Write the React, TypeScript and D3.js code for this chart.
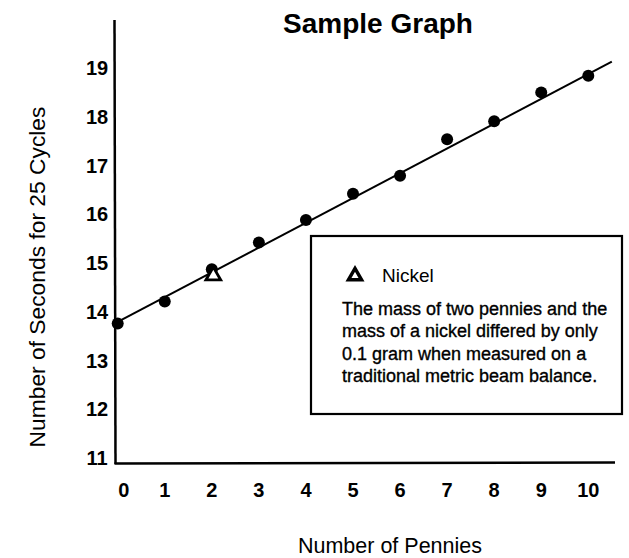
import React from 'react';
import * as d3 from 'd3';

// number of pennies on the pendulum vs time for 25 swings
const pennies = [0, 1, 2, 3, 4, 5, 6, 7, 8, 9, 10];
const seconds = [13.76, 14.21, 14.87, 15.42, 15.88, 16.42, 16.79, 17.54, 17.91, 18.5, 18.84];

// the nickel, plotted at two pennies
const nickelX = [2];
const nickelY = [14.74];

// hand-drawn best fit line
const fitX = [0, 10.5];
const fitY = [13.79, 19.13];

const xTicks = [0, 1, 2, 3, 4, 5, 6, 7, 8, 9, 10];
const yTicks = [11, 12, 13, 14, 15, 16, 17, 18, 19];

const noteLines = [
  'The mass of two pennies and the',
  'mass of a nickel differed by only',
  '0.1 gram when measured on a',
  'traditional metric beam balance.',
];

const font = '"Liberation Sans", Arial, Helvetica, sans-serif';

const App = () => {
  const width = 629;
  const height = 558;

  const x = d3.scaleLinear().domain([0, 10]).range([117.7, 588.3]);
  const y = d3.scaleLinear().domain([11, 19]).range([458, 68]);

  const fitLine = d3.line<number>()
    .x((d) => x(d))
    .y((_, i) => y(fitY[i]));

  const triangle = d3.symbol().type(d3.symbolTriangle).size(95)();
  const legendTriangle = d3.symbol().type(d3.symbolTriangle).size(75)();

  return (
    <svg
      width={width}
      height={height}
      style={{ position: 'absolute', left: 0, top: 0, background: '#fff' }}
      fontFamily={font}
    >
      <rect x={0} y={0} width={width} height={height} fill="#fff" />

      <text x={378} y={33} textAnchor="middle" fontSize={28} fontWeight="bold">
        Sample Graph
      </text>

      {/* axes */}
      <line x1={114.5} y1={20} x2={115.5} y2={464} stroke="#000" strokeWidth={2.5} />
      <line x1={114.5} y1={463.5} x2={615} y2={462.5} stroke="#000" strokeWidth={2.5} />

      {yTicks.map((t) => (
        <text key={t} x={97} y={y(t)} dy="0.35em" textAnchor="middle" fontSize={20} fontWeight="bold">
          {t}
        </text>
      ))}
      {xTicks.map((t, i) => (
        <text key={t} x={x(t) + (i === 0 ? 6 : 0)} y={497} textAnchor="middle" fontSize={20} fontWeight="bold">
          {t}
        </text>
      ))}

      <text
        transform="translate(45, 277) rotate(-90)"
        textAnchor="middle"
        fontSize={22.8}
      >
        Number of Seconds for 25 Cycles
      </text>
      <text x={390} y={553} textAnchor="middle" fontSize={21.5}>
        Number of Pennies
      </text>

      {/* fit line */}
      <path d={fitLine(fitX) || ''} fill="none" stroke="#000" strokeWidth={2} />

      {/* penny points */}
      {pennies.map((p, i) => (
        <circle key={p} cx={x(p)} cy={y(seconds[i])} r={6} fill="#000" />
      ))}

      {/* nickel */}
      {nickelX.map((n, i) => (
        <path
          key={n}
          d={triangle || ''}
          transform={`translate(${x(n) + 1.5}, ${y(nickelY[i])})`}
          fill="#fff"
          stroke="#000"
          strokeWidth={2.8}
        />
      ))}

      {/* legend / note box */}
      <rect x={311} y={236} width={311} height={178} fill="#fff" stroke="#000" strokeWidth={2.2} />
      <path d={legendTriangle || ''} transform="translate(355, 276)" fill="#fff" stroke="#000" strokeWidth={3.4} />
      <text x={382} y={282} fontSize={19}>
        Nickel
      </text>
      {noteLines.map((l, i) => (
        <text key={i} x={342} y={315 + i * 22.3} fontSize={18} stroke="#000" strokeWidth={0.35}>
          {l}
        </text>
      ))}
    </svg>
  );
};

export default App;
